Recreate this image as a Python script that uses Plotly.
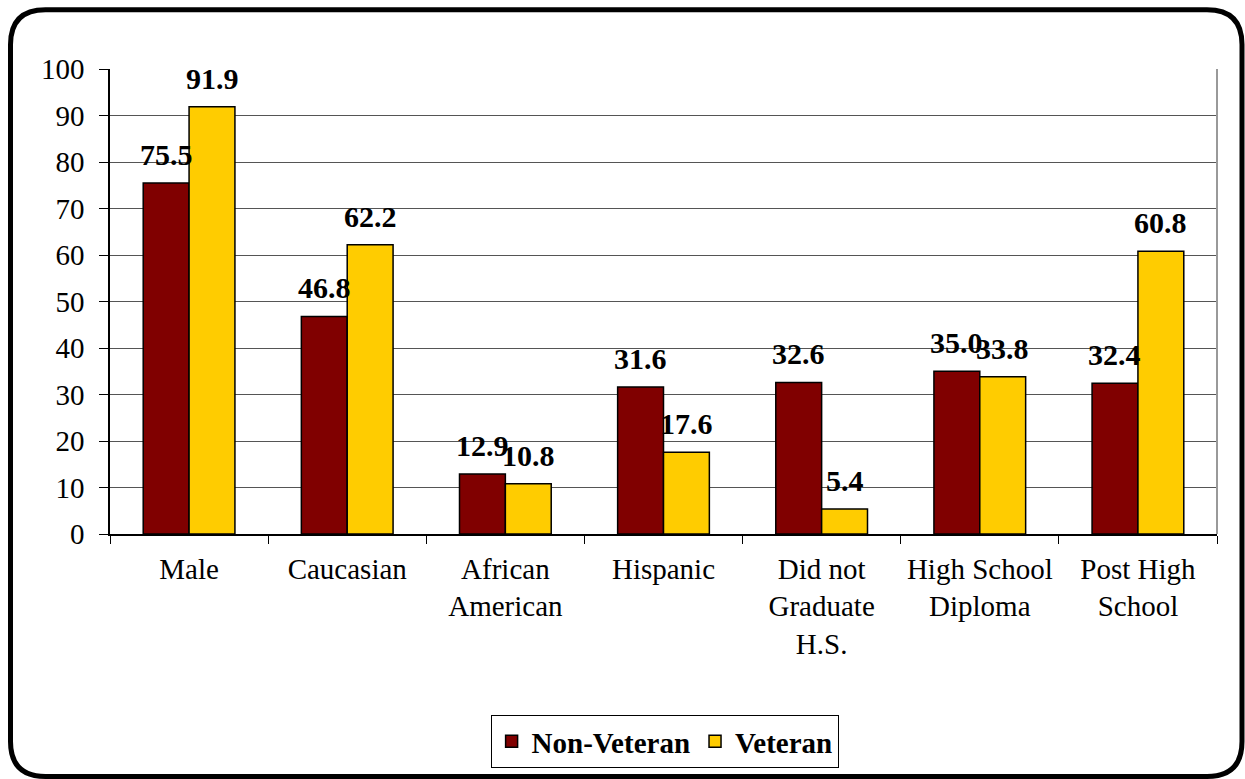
import plotly.graph_objects as go

categories = ["Male", "Caucasian", "African<br>American", "Hispanic",
              "Did not<br>Graduate<br>H.S.", "High School<br>Diploma", "Post High<br>School"]
non_veteran = [75.5, 46.8, 12.9, 31.6, 32.6, 35.0, 32.4]
veteran = [91.9, 62.2, 10.8, 17.6, 5.4, 33.8, 60.8]

SERIF = "Liberation Serif, Times New Roman, serif"

# plot-area geometry in pixels
L, R, T, B = 110, 1217, 69, 535
W, H = R - L, B - T
BARGAP = 0.42
bar_px = W / len(categories) * (1 - BARGAP) / 2

fig = go.Figure()
series = [("Non-Veteran", non_veteran, "#800000", -0.5),
          ("Veteran", veteran, "#FFCC00", 0.5)]
for name, vals, color, side in series:
    fig.add_trace(go.Bar(
        name=name, x=categories, y=vals,
        marker=dict(color=color, line=dict(color="black", width=1.5)),
    ))
    # value labels above each bar
    for cat, v in zip(categories, vals):
        fig.add_annotation(
            x=cat, y=v, text=f"{v:.1f}", showarrow=False,
            xanchor="center", yanchor="bottom",
            xshift=side * bar_px, yshift=10,
            font=dict(family=SERIF, size=30, color="black", weight="bold"),
        )

def px(x):
    return (x - L) / W
def py(y):
    return (B - y) / H

# rounded outer frame around the whole chart
x0, x1, y0, y1, r = 10.5, 1242, 9.5, 778, 35
frame = (f"M {px(x0 + r)},{py(y0)} L {px(x1 - r)},{py(y0)} "
         f"Q {px(x1)},{py(y0)} {px(x1)},{py(y0 + r)} "
         f"L {px(x1)},{py(y1 - r)} Q {px(x1)},{py(y1)} {px(x1 - r)},{py(y1)} "
         f"L {px(x0 + r)},{py(y1)} Q {px(x0)},{py(y1)} {px(x0)},{py(y1 - r)} "
         f"L {px(x0)},{py(y0 + r)} Q {px(x0)},{py(y0)} {px(x0 + r)},{py(y0)} Z")

fig.update_layout(
    width=1245, height=779,
    margin=dict(l=L, r=1245 - R, t=T, b=779 - B),
    paper_bgcolor="white", plot_bgcolor="white",
    barmode="group", bargap=BARGAP, bargroupgap=0,
    font=dict(family=SERIF, size=29, color="black"),
    showlegend=True,
    legend=dict(orientation="h", x=0.501, xanchor="center", y=py(715), yanchor="top",
                bordercolor="black", borderwidth=1,
                font=dict(family=SERIF, size=29, color="black", weight="bold"),
                traceorder="normal", itemwidth=30),
    shapes=[
        dict(type="path", path=frame, xref="paper", yref="paper",
             line=dict(color="black", width=5), fillcolor="rgba(0,0,0,0)", layer="above"),
        dict(type="line", xref="paper", yref="paper", x0=1, x1=1, y0=0, y1=1,
             line=dict(color="#999999", width=2)),
    ],
)
fig.update_yaxes(range=[0, 100], dtick=10, showgrid=True, gridcolor="#555555", gridwidth=1,
                 showline=True, linecolor="black", linewidth=1.5,
                 ticks="outside", ticklen=9, tickcolor="black", ticklabelstandoff=9,
                 tickfont=dict(family=SERIF, size=29), zeroline=False)
fig.update_xaxes(showline=True, linecolor="black", linewidth=1.5,
                 ticks="outside", tickson="boundaries", ticklen=8, tickcolor="black",
                 ticklabelstandoff=8,
                 tickfont=dict(family=SERIF, size=29), tickangle=0)

fig.write_html("out.html")
